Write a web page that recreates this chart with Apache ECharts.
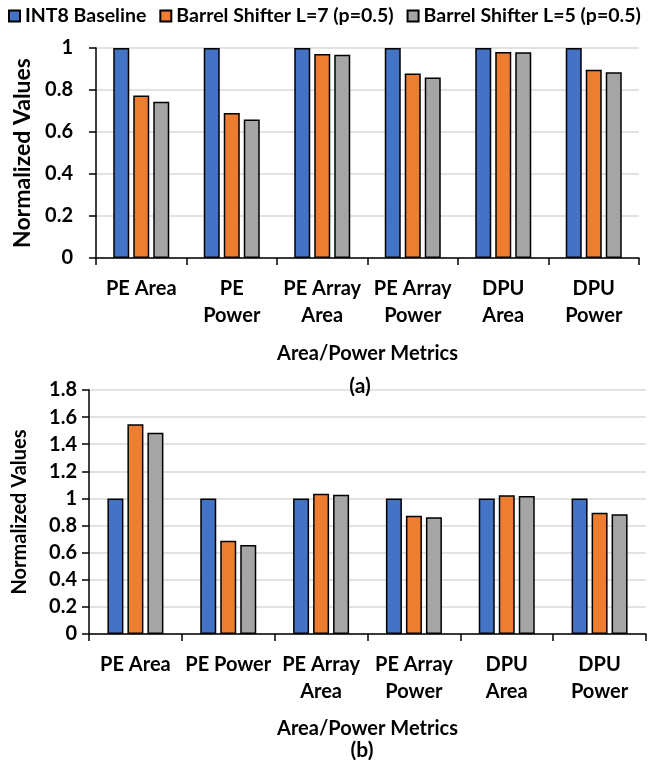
<!DOCTYPE html>
<html>
<head>
<meta charset="utf-8">
<script src="https://cdn.jsdelivr.net/npm/echarts@6/dist/echarts.min.js"></script>
<style>html,body{margin:0;padding:0;background:#fff}#c{width:653px;height:764px}</style>
</head>
<body>
<div id="c"></div>
<script>
const seriesNames = ['INT8 Baseline', 'Barrel Shifter L=7 (p=0.5)', 'Barrel Shifter L=5 (p=0.5)'];
const categoriesA = ['PE Area', 'PE\nPower', 'PE Array\nArea', 'PE Array\nPower', 'DPU\nArea', 'DPU\nPower'];
const categoriesB = ['PE Area', 'PE Power', 'PE Array\nArea', 'PE Array\nPower', 'DPU\nArea', 'DPU\nPower'];
const baselineA = [1, 1, 1, 1, 1, 1];
const l7A = [0.774, 0.690, 0.971, 0.878, 0.981, 0.897];
const l5A = [0.744, 0.660, 0.968, 0.860, 0.980, 0.884];
const baselineB = [1, 1, 1, 1, 1, 1];
const l7B = [1.547, 0.688, 1.035, 0.873, 1.023, 0.895];
const l5B = [1.485, 0.656, 1.028, 0.861, 1.018, 0.883];
const colors = ['#4472C4', '#ED7D31', '#A5A5A5'];
const xTitle = 'Area/Power Metrics';
const yTitle = 'Normalized Values';
const panelLabels = ['(a)', '(b)'];

const FONT = 'Lato';
const txt = (size) => ({ fontFamily: FONT, fontWeight: 'bold', fontSize: size, color: '#000' });

function xAxis(gi, cats, gap) {
  return {
    type: 'category', gridIndex: gi, data: cats,
    axisLine: { lineStyle: { color: '#000', width: 1.5 } },
    axisTick: { show: true, length: 7, interval: 0, alignWithLabel: false, lineStyle: { color: '#000', width: 1.5 } },
    axisLabel: Object.assign(txt(20), { interval: 0, lineHeight: 27, margin: 17 }),
    name: xTitle, nameLocation: 'middle', nameGap: gap,
    nameTextStyle: Object.assign(txt(20), { lineHeight: 24 })
  };
}
function yAxis(gi, max, margin, nameSize, nameGap) {
  return {
    type: 'value', gridIndex: gi, min: 0, max: max, interval: 0.2,
    axisLine: { show: true, lineStyle: { color: '#000', width: 1.5 } },
    axisTick: { show: true, length: 7, lineStyle: { color: '#000', width: 1.5 } },
    splitLine: { lineStyle: { color: '#d9d9d9', width: 1.5 } },
    axisLabel: Object.assign(txt(20), { margin: margin, formatter: v => String(Math.round(v * 10) / 10) }),
    name: yTitle, nameLocation: 'middle', nameRotate: 90, nameGap: nameGap,
    nameTextStyle: txt(nameSize)
  };
}
function bar(i, data, gi) {
  return {
    name: seriesNames[i], type: 'bar', xAxisIndex: gi, yAxisIndex: gi, data: data,
    barWidth: 16, barGap: '25%',
    itemStyle: { color: colors[i], borderColor: '#000', borderWidth: 1.5 },
    emphasis: { disabled: true }
  };
}
function panelTitle(text, x, y) {
  return { text: text, left: x, top: y, textAlign: 'center', padding: 0, textStyle: Object.assign(txt(21), { lineHeight: 24 }) };
}

const chart = echarts.init(document.getElementById('c'), null, { renderer: 'canvas' });
chart.setOption({
  animation: false,
  backgroundColor: '#fff',
  title: [panelTitle(panelLabels[0], 360, 374), panelTitle(panelLabels[1], 362, 738)],
  legend: {
    data: seriesNames, left: 8, top: 6, width: 648, itemWidth: 11, itemHeight: 11, itemGap: 13,
    icon: 'rect', padding: 0,
    textStyle: txt(19.5)
  },
  grid: [
    { left: 96, right: 14, top: 48, height: 210 },
    { left: 89, right: 7, top: 390, height: 244 }
  ],
  xAxis: [xAxis(0, categoriesA, 84), xAxis(1, categoriesB, 83)],
  yAxis: [yAxis(0, 1, 23, 23, 59), yAxis(1, 1.8, 12, 20, 59)],
  series: [
    bar(0, baselineA, 0), bar(1, l7A, 0), bar(2, l5A, 0),
    bar(0, baselineB, 1), bar(1, l7B, 1), bar(2, l5B, 1)
  ]
});
</script>
</body>
</html>
